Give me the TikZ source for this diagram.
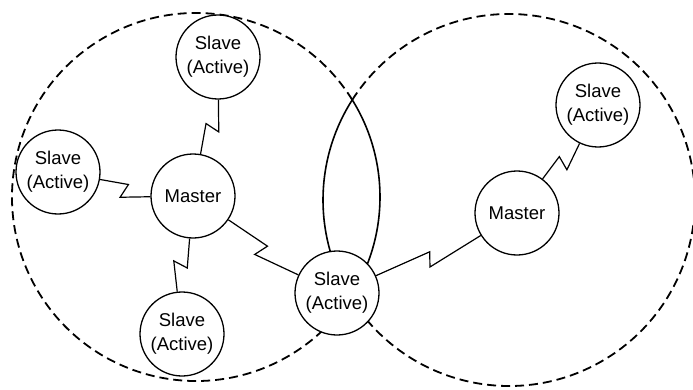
\documentclass[tikz,border=0pt]{standalone}
\usepackage{fontspec}
\setmainfont{Liberation Sans}
\usetikzlibrary{calc}
\begin{document}
\begin{tikzpicture}[x=1pt,y=1pt,
  station/.style={circle, draw, line width=1.3pt, fill=white, minimum size=84pt,
    inner sep=0pt, align=center, font=\fontsize{18.5}{24}\selectfont},
  coverage/.style={line width=1.8pt, dash pattern=on 9pt off 5pt},
  overlap/.style={line width=1.6pt},
  radio/.style={line width=1.2pt, line join=miter}]
\useasboundingbox (0,0) rectangle (693,389);

% coverage of the two piconets: dashed outside, solid where they overlap
\coordinate (cl) at (196,192);
\coordinate (cr) at (509,189);
\draw[coverage] (cl) ++(31.87:184pt)  arc[start angle=31.87,  end angle=327.03, radius=184pt];
\draw[overlap]  (cl) ++(-32.97:184pt) arc[start angle=-32.97, end angle=31.87,  radius=184pt];
\draw[coverage] (cr) ++(211.48:186pt) arc[start angle=211.48, end angle=507.42, radius=186pt];
\draw[overlap]  (cr) ++(147.42:186pt) arc[start angle=147.42, end angle=211.48, radius=186pt];

% stations
\node[station] (topS)    at (218,332) {Slave\\(Active)};
\node[station] (leftS)   at (58,217)  {Slave\\(Active)};
\node[station] (masterL) at (193,193) {Master};
\node[station] (bottomS) at (182,55)  {Slave\\(Active)};
\node[station] (midS)    at (337,96)  {Slave\\(Active)};
\node[station] (masterR) at (517,176) {Master};
\node[station] (rightS)  at (598,284) {Slave\\(Active)};

% radio links, each with a lightning jog halfway
\foreach \a/\b in {masterL/topS, leftS/masterL, masterL/bottomS, masterL/midS,
                   midS/masterR, masterR/rightS}{
  \draw[radio] (\a) -- ($(\a)!0.5!(\b)!3pt!(\b)$)
                    -- ($(\a)!0.5!(\b)!-3pt!(\b)!14pt!-90:(\b)$) -- (\b);
}
\end{tikzpicture}
\end{document}
